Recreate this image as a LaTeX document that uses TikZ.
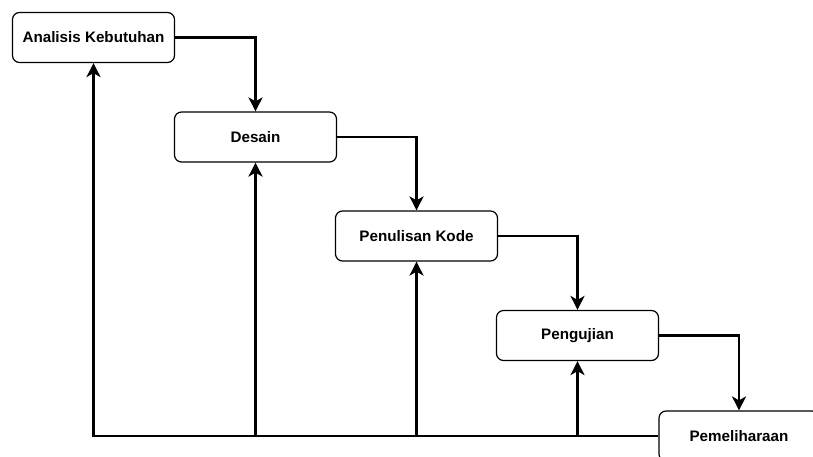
\documentclass[tikz,border=0pt]{standalone}
\usepackage{fontspec}
\setmainfont{Liberation Sans}
\usetikzlibrary{arrows.meta}
\begin{document}
\begin{tikzpicture}[x=1pt,y=-1pt,
  phase/.style={draw, line width=1.2pt, rounded corners=7pt, fill=white,
    minimum width=162pt, minimum height=50pt, inner sep=0pt,
    font=\fontsize{15.2}{18}\selectfont\bfseries},
  flow/.style={line width=2.4pt, -{Stealth[length=14pt,width=14pt,inset=4pt]}}]
\useasboundingbox (0,0) rectangle (813,456);
\clip (0,0) rectangle (813,456);
\node[phase] (a) at (93.5,37.5) {Analisis Kebutuhan};
\node[phase] (d) at (255.5,137) {Desain};
\node[phase] (p) at (416.5,236) {Penulisan Kode};
\node[phase] (u) at (577.5,335.5) {Pengujian};
\node[phase, minimum width=160pt] (m) at (739,436) {Pemeliharaan};
\draw[flow] (a.east) -| (d.north);
\draw[flow] (d.east) -| (p.north);
\draw[flow] (p.east) -| (u.north);
\draw[flow] (u.east) -| (m.north);
\coordinate (c) at (a.south |- m.west);
\draw[flow] (m.west) -- (c) -- (a.south);
\coordinate (cd) at (d.south |- m.west);
\coordinate (cp) at (p.south |- m.west);
\coordinate (cu) at (u.south |- m.west);
\draw[flow] (cd) -- (d.south);
\draw[flow] (cp) -- (p.south);
\draw[flow] (cu) -- (u.south);
\end{tikzpicture}
\end{document}
